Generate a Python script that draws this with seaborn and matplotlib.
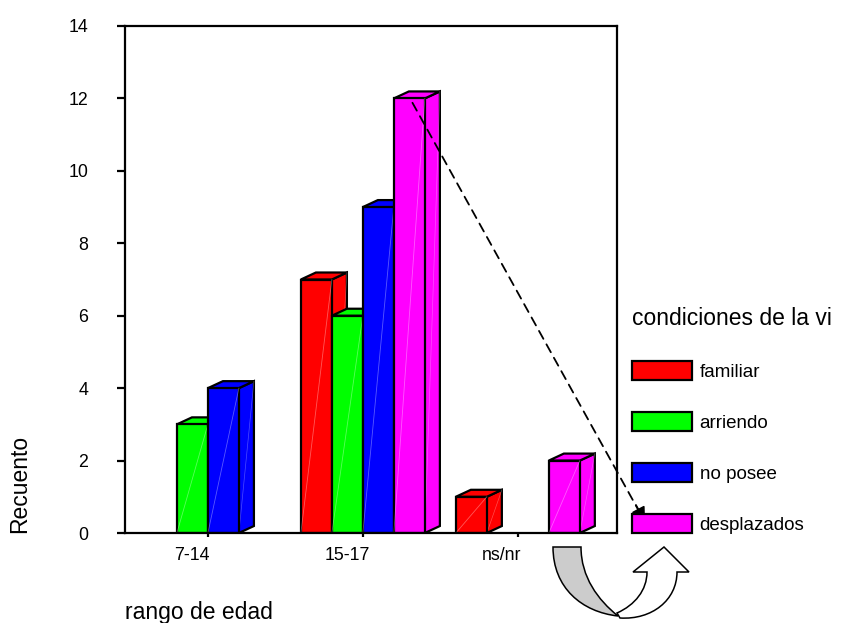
"""Recuento por rango de edad y condiciones de la vivienda (barras 3D)."""

import matplotlib
import numpy as np
import pandas as pd
import seaborn as sns
from matplotlib import pyplot as plt
from matplotlib import transforms
from matplotlib.patches import Patch, PathPatch, Polygon
from matplotlib.path import Path

matplotlib.use("Agg")

RANGOS = ["7-14", "15-17", "ns/nr"]
CONDICIONES = ["familiar", "arriendo", "no posee", "desplazados"]
FAMILIAR = [0, 7, 1]
ARRIENDO = [3, 6, 0]
NO_POSEE = [4, 9, 0]
DESPLAZADOS = [0, 12, 2]
COLORES = ["#ff0000", "#00ff00", "#0000ff", "#ff00ff"]
Y_TICKS = [0, 2, 4, 6, 8, 10, 12, 14]

W, H = 841, 623


def px(x, y):
    """Pixel position (from top-left) to figure fraction."""
    return (x / W, 1 - y / H)


rows = []
for cond, vals in zip(CONDICIONES, [FAMILIAR, ARRIENDO, NO_POSEE, DESPLAZADOS]):
    for rango, v in zip(RANGOS, vals):
        rows.append({"rango": rango, "condicion": cond, "recuento": v})
data = pd.DataFrame(rows)

sns.set_style("white")
plt.rcParams["font.family"] = ["Liberation Sans", "DejaVu Sans"]
plt.rcParams["text.color"] = "black"

fig = plt.figure(figsize=(W / 100, H / 100), dpi=100)
ax = fig.add_axes([125 / W, 1 - 533 / H, (617 - 125) / W, (533 - 26) / H])

sns.barplot(
    data=data, x="rango", y="recuento", hue="condicion",
    order=RANGOS, hue_order=CONDICIONES, palette=COLORES,
    saturation=1, width=0.8, edgecolor="black", linewidth=1.6,
    errorbar=None, legend=False, ax=ax,
)

ax.set_xlim(-0.535, 2.64)
ax.set_ylim(0, 14)

# fake 3D: top and side faces behind each front face
dx, dy = 0.097, 0.193
bars = []
for ci, container in enumerate(ax.containers):
    for rect in container:
        bars.append((rect.get_x(), rect, COLORES[ci]))
bars.sort(key=lambda b: b[0])
for i, (x0, rect, color) in enumerate(bars):
    h = rect.get_height()
    if h <= 0:
        rect.set_visible(False)
        continue
    x1 = x0 + rect.get_width()
    z = 2 + i * 0.1
    top = Polygon([(x0, h), (x0 + dx, h + dy), (x1 + dx, h + dy), (x1, h)],
                  closed=True, facecolor=color, edgecolor="black", lw=1.6, zorder=z)
    side = Polygon([(x1, 0), (x1, h), (x1 + dx, h + dy), (x1 + dx, dy)],
                   closed=True, facecolor=color, edgecolor="black", lw=1.6, zorder=z)
    ax.add_patch(side)
    ax.add_patch(top)
    rect.set_zorder(z + 0.05)
    ax.plot([x0, x1], [0, h], color="white", alpha=0.35, lw=0.6, zorder=z + 0.06)
    ax.plot([x1, x1 + dx], [0, h + dy], color="white", alpha=0.3, lw=0.5, zorder=z + 0.01)

ax.set_xlim(-0.535, 2.64)
ax.set_ylim(0, 14)
ax.set_yticks(Y_TICKS)

for spine in ax.spines.values():
    spine.set_visible(True)
    spine.set_color("black")
    spine.set_linewidth(1.6)
    spine.set_zorder(5)

ax.tick_params(axis="y", direction="out", length=5.5, width=1.6, pad=21,
               labelsize=12.8, colors="black", left=True)
ax.tick_params(axis="x", direction="out", length=3, width=1.6, pad=7,
               labelsize=12.8, colors="black", bottom=True)
shift = transforms.ScaledTranslation(-16 / 100, 0, fig.dpi_scale_trans)
for label in ax.get_xticklabels():
    label.set_transform(label.get_transform() + shift)

ax.set_xlabel("rango de edad", loc="left", fontsize=16.5, color="black")
ax.xaxis.set_label_coords(0.0, -0.135)
ax.set_ylabel("Recuento", loc="bottom", fontsize=16.5, color="black")
ax.yaxis.set_label_coords(-0.19, 0.0)

handles = [Patch(facecolor=c, edgecolor="black", linewidth=1.6) for c in COLORES]
leg = ax.legend(
    handles, CONDICIONES, title="condiciones de la vi",
    loc="upper left", bbox_to_anchor=px(632, 307), bbox_transform=fig.transFigure,
    frameon=False, fontsize=13.5, title_fontsize=16.5,
    handlelength=3.2, handleheight=1.2, labelspacing=1.65,
    handletextpad=0.4, borderpad=0, borderaxespad=0, alignment="left",
)
leg.get_title().set_color("black")
for text in leg.get_texts():
    text.set_color("black")

# dashed arrow from the tallest bar to its legend entry
target = ax.containers[3][1]
start = (target.get_x() + target.get_width() / 2 + 0.02, target.get_height() - 0.12)
tip = px(645, 522)
ax.annotate("", xy=tip, xycoords="figure fraction", xytext=start, textcoords="data",
            annotation_clip=False,
            arrowprops=dict(arrowstyle="-", linestyle=(0, (5, 3.5)), lw=1.3,
                            color="black", shrinkA=0, shrinkB=0))
ax.annotate("", xy=tip, xycoords="figure fraction", xytext=px(636, 505),
            textcoords="figure fraction", annotation_clip=False,
            arrowprops=dict(arrowstyle="-|>", lw=1.2, color="black",
                            mutation_scale=22, shrinkA=0, shrinkB=0))

# curved arrow below the chart
white_band = Path(
    [px(617, 613), px(635, 605), px(647, 590), px(647, 572), px(633, 572),
     px(664, 547), px(689, 572), px(677, 572), px(677, 600), px(652, 620),
     px(620, 618), px(617, 613)],
    [Path.MOVETO, Path.CURVE4, Path.CURVE4, Path.CURVE4, Path.LINETO,
     Path.LINETO, Path.LINETO, Path.LINETO, Path.CURVE4, Path.CURVE4,
     Path.CURVE4, Path.CLOSEPOLY],
)
gray_band = Path(
    [px(553, 547), px(553, 588), px(582, 612), px(618, 616), px(598, 600),
     px(581, 577), px(581, 547), px(553, 547)],
    [Path.MOVETO, Path.CURVE4, Path.CURVE4, Path.CURVE4, Path.CURVE4,
     Path.CURVE4, Path.CURVE4, Path.CLOSEPOLY],
)
fig.add_artist(PathPatch(white_band, facecolor="white", edgecolor="black", lw=1.1,
                         transform=fig.transFigure))
fig.add_artist(PathPatch(gray_band, facecolor="#cccccc", edgecolor="black", lw=1.1,
                         transform=fig.transFigure))

fig.savefig("out.png", dpi=100)
